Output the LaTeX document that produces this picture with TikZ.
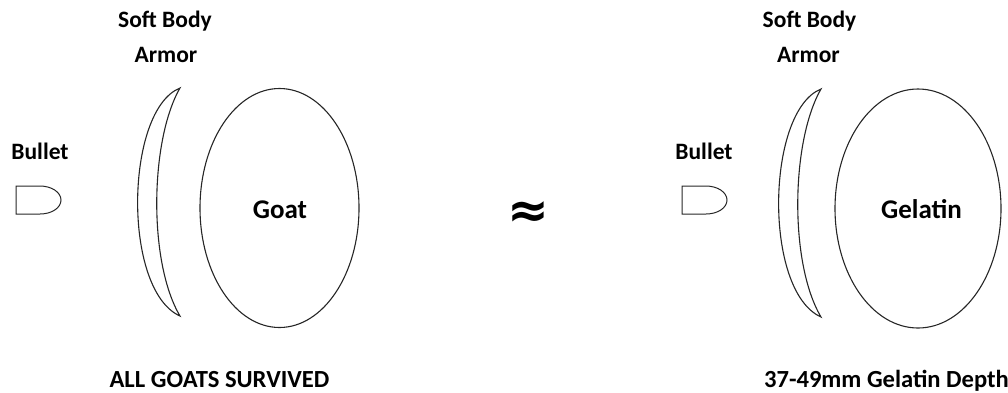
\documentclass[tikz,border=0pt]{standalone}
\usepackage{fontspec}
\setmainfont{Carlito}
\newfontfamily\symfont{DejaVu Sans}
\begin{document}
\begin{tikzpicture}[x=1pt,y=-1pt,
  lbl/.style={font=\fontsize{23.5}{28}\selectfont\bfseries, anchor=base, inner sep=0pt, text=black},
  biglbl/.style={lbl, font=\fontsize{27}{32}\selectfont\bfseries},
  footlbl/.style={lbl, font=\fontsize{24.6}{30}\selectfont\bfseries},
  outline/.style={draw=black!85, line width=1.1pt},
  bulletshape/.style={draw=black!85, line width=1pt}]
\useasboundingbox (0,0) rectangle (1008,392);
% ---------- left panel ----------
\node[lbl] (sb1) at (165,27) {Soft Body};
\node[lbl] (ar1) at (166,62) {Armor};
\node[lbl] (bl1) at (40,159) {Bullet};
\draw[bulletshape] (16,186) -- (40,186) .. controls (51.6,186) and (61,192.3) .. (61,200)
  .. controls (61,207.7) and (52,214) .. (40,214) -- (16,214) -- cycle;
\draw[outline] (180,88) .. controls (125,110) and (122,290) .. (180,316)
  .. controls (148,262) and (150,140) .. (180,88) -- cycle;
\draw[outline] (279.5,208) ellipse[x radius=79.5, y radius=119.5];
\node[biglbl] (goat) at (280,218.5) {Goat};
\node[footlbl] (res1) at (219.5,387) {ALL GOATS SURVIVED};
% ---------- approx ----------
\node[font=\symfont\bfseries\fontsize{50}{50}\selectfont, inner sep=0pt] (approx) at (528.5,214.5) {≈};
% ---------- right panel ----------
\node[lbl] (sb2) at (809.5,27) {Soft Body};
\node[lbl] (ar2) at (808.5,62) {Armor};
\node[lbl] (bl2) at (704,159) {Bullet};
\draw[bulletshape] (682,186) -- (706,186) .. controls (717.6,186) and (727,192.3) .. (727,200)
  .. controls (727,207.7) and (718,214) .. (706,214) -- (682,214) -- cycle;
\draw[outline] (821,89) .. controls (766,111) and (763,291) .. (821,317)
  .. controls (789,263) and (791,141) .. (821,89) -- cycle;
\draw[outline] (918,208.5) ellipse[x radius=83, y radius=119.5];
\node[biglbl] (gel) at (921.5,218.5) {Gelatin};
\node[footlbl] (res2) at (886.5,387) {37-49mm Gelatin Depth};
\end{tikzpicture}
\end{document}
